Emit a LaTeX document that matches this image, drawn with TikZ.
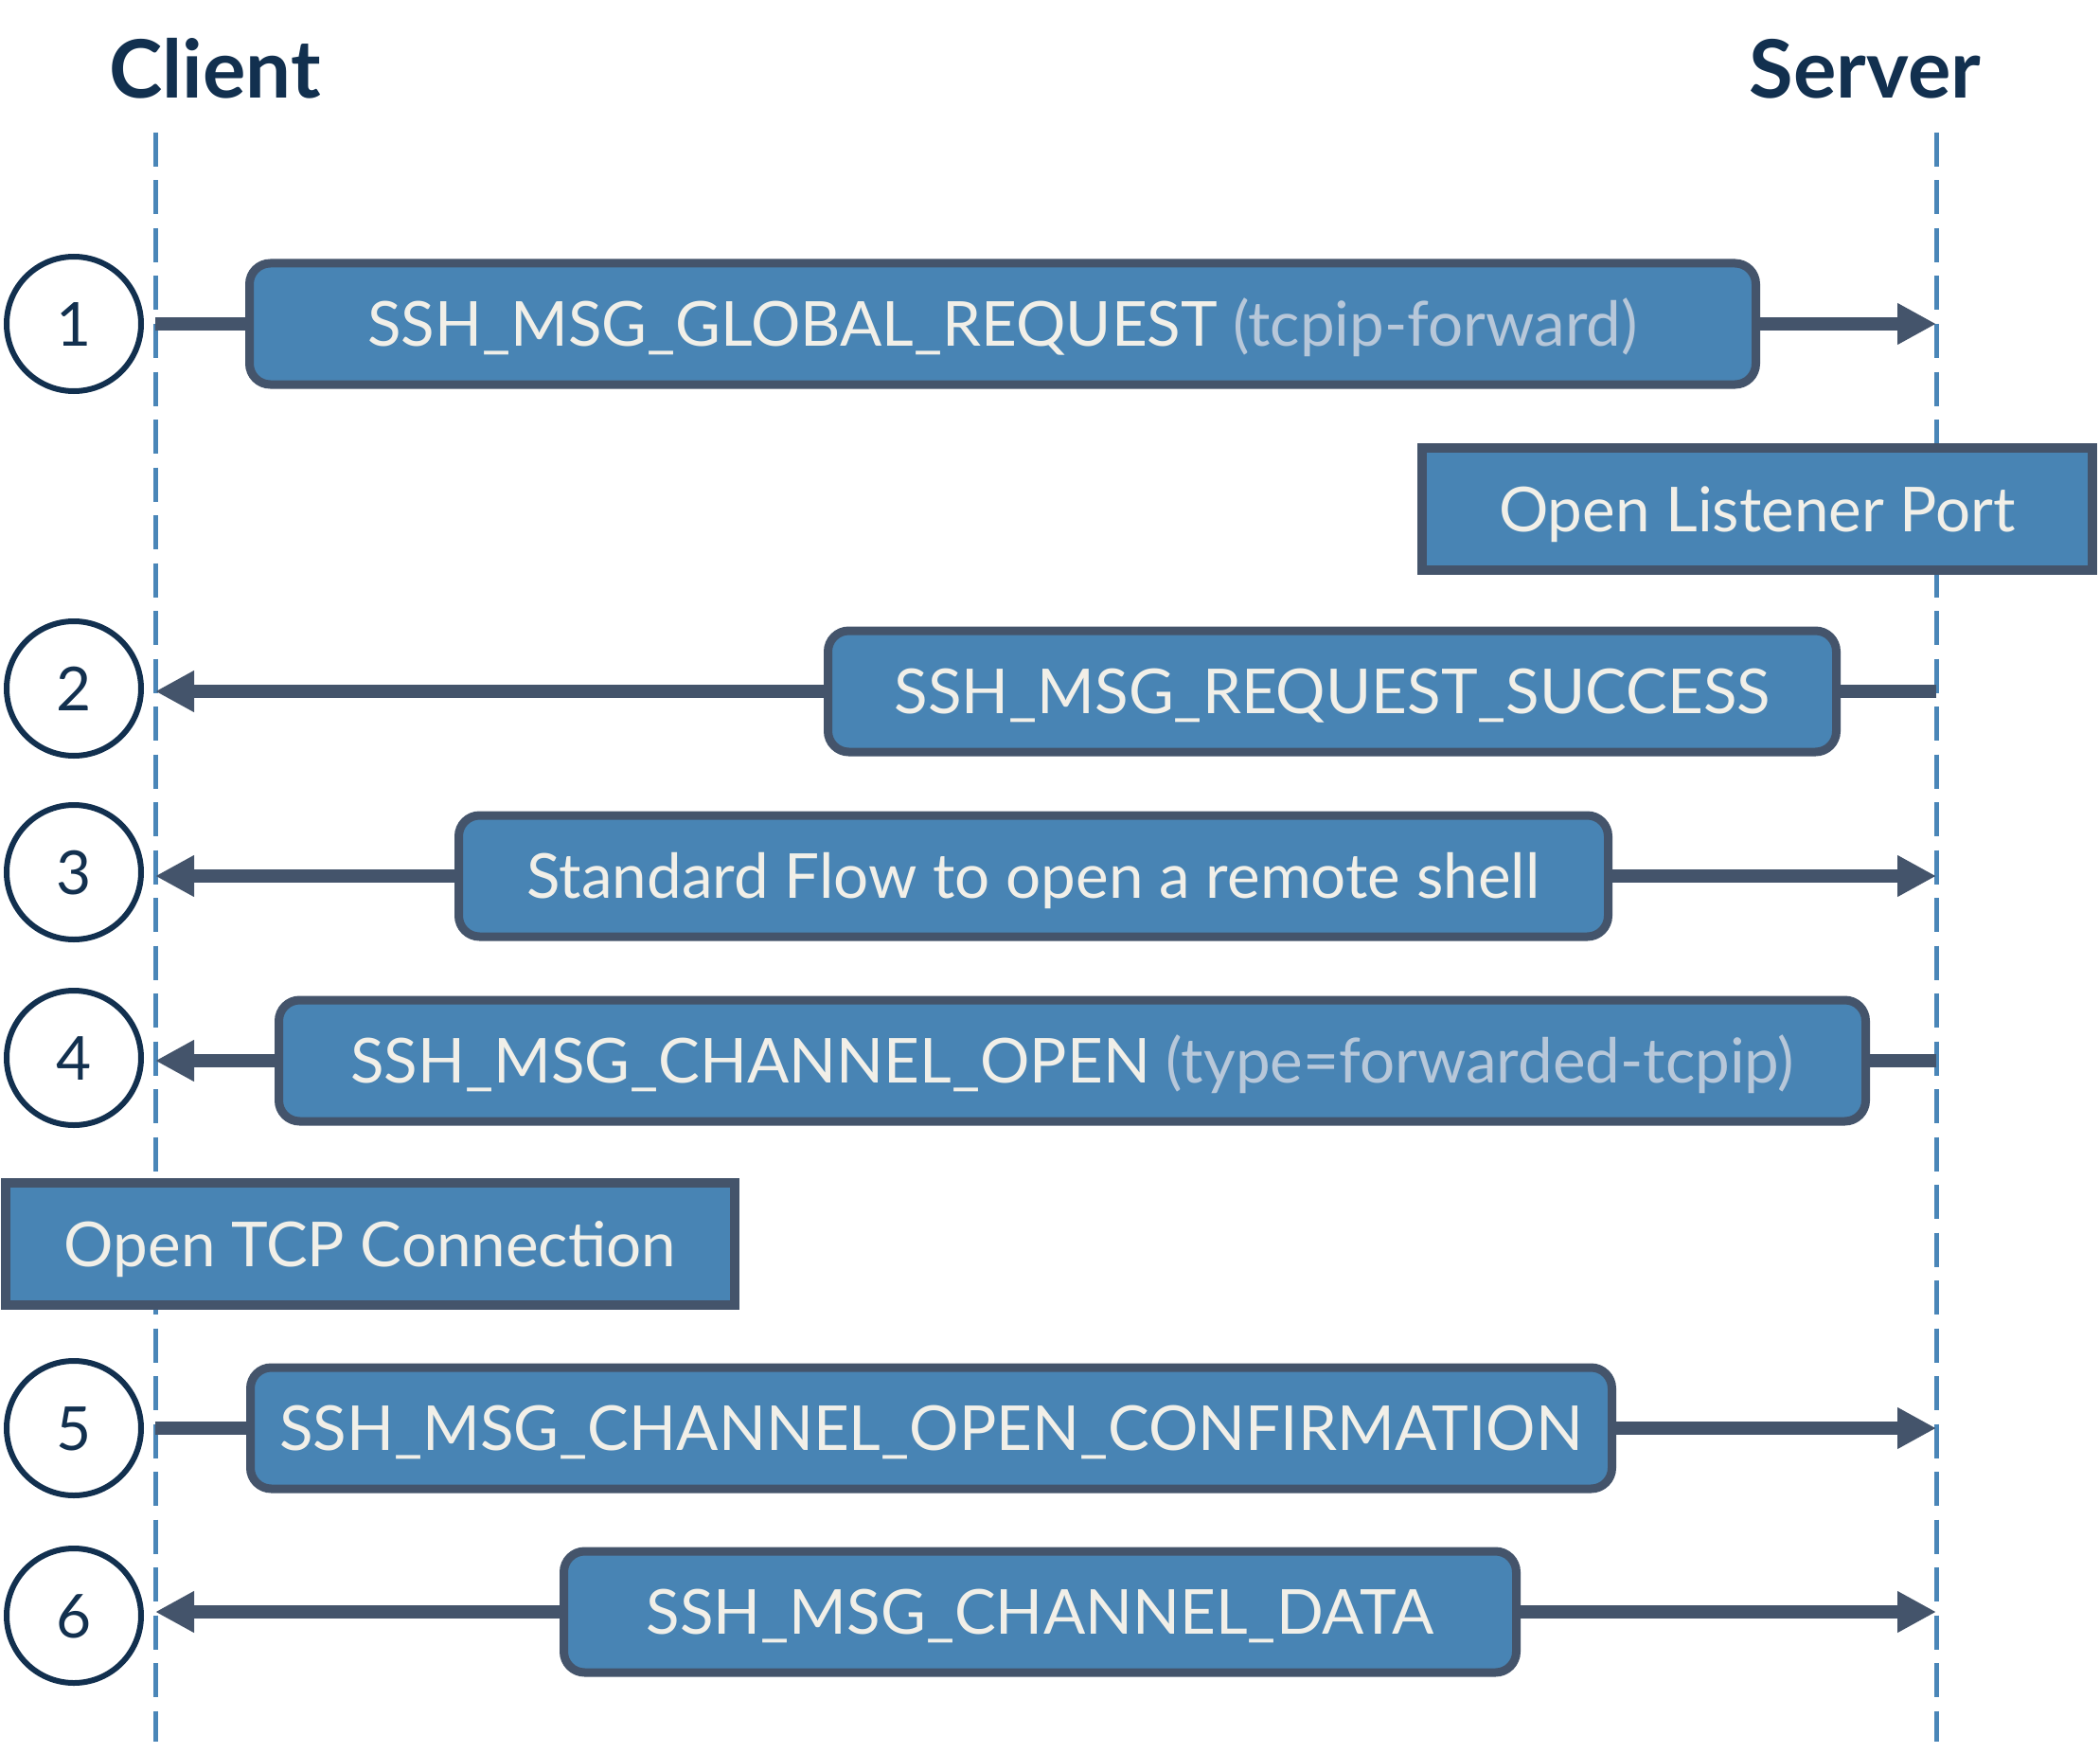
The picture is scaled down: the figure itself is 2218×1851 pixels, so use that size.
\documentclass[tikz,border=0pt]{standalone}
\usepackage{fontspec}
\setmainfont{Lato}
\usetikzlibrary{arrows.meta}
\definecolor{navy}{HTML}{12304F}
\definecolor{boxfill}{HTML}{4884B4}
\definecolor{slate}{HTML}{44546B}
\definecolor{lbl}{HTML}{F1EFE8}
\definecolor{paren}{HTML}{B7C7D9}
\definecolor{life}{HTML}{4A86B8}
\begin{document}
\begin{tikzpicture}[x=1pt,y=-1pt,
  msg/.style={draw=slate, line width=9pt, fill=boxfill, rounded corners=22pt, inner sep=0pt,
    text=lbl, font=\fontsize{65.5}{72}\selectfont, text height=47pt, text depth=0pt, minimum height=128pt},
  act/.style={msg, sharp corners, line width=10pt, minimum height=129pt},
  num/.style={circle, draw=navy, line width=6pt, minimum size=142pt, inner sep=0pt, text=navy,
    font=\fontsize{64}{70}\selectfont, text height=46pt, text depth=0pt},
  lifeline/.style={draw=life, line width=5pt, dash pattern=on 36pt off 14.5pt},
  conn/.style={draw=slate, line width=14pt},
  arr/.style={conn, -{Triangle[length=41pt,width=41pt]}},
  titletext/.style={text=navy, font=\fontsize{85}{92}\selectfont\bfseries, anchor=base, inner sep=0pt}
]
\useasboundingbox (0,0) rectangle (2218,1851);
\fill[white] (0,0) rectangle (2218,1851);

% titles
\node[titletext] (client) at (227,104) {Client};
\node[titletext] (server) at (1970,104) {Server};

% lifelines
\coordinate (ctop) at (164,140);
\coordinate (cbot) at (164,1839);
\coordinate (stop) at (2045,140);
\coordinate (sbot) at (2045,1839);
\draw[lifeline] (ctop) -- (cbot);
\draw[lifeline] (stop) -- (sbot);

% row anchor points on lifelines
\foreach \i/\y in {1/342,2/730,3/925,4/1120,5/1508,6/1702}{
  \coordinate (c\i) at (164,\y);
  \coordinate (s\i) at (2045,\y);
}

% step circles
\node[num] (n1) at (78,342) {1};
\node[num] (n2) at (78,727) {2};
\node[num] (n3) at (78,921) {3};
\node[num] (n4) at (78,1117) {4};
\node[num] (n5) at (78,1508) {5};
\node[num] (n6) at (78,1706) {6};

% action boxes
\node[act, minimum width=708pt] (olp) at (1856,537.5) {Open Listener Port};
\node[act, minimum width=770pt] (otc) at (391,1313.5) {Open TCP Connection};

% message boxes
\node[msg, minimum width=1591pt] (b1) at (1059,342) {SSH\_MSG\_GLOBAL\_REQUEST {\color{paren}(tcpip-forward)}};
\node[msg, minimum width=1065pt] (b2) at (1407,730) {SSH\_MSG\_REQUEST\_SUCCESS};
\node[msg, minimum width=1214pt] (b3) at (1091.5,925) {Standard Flow to open a remote shell};
\node[msg, minimum width=1676pt] (b4) at (1132.5,1120) {SSH\_MSG\_CHANNEL\_OPEN {\color{paren}(type=forwarded-tcpip)}};
\node[msg, minimum width=1438pt] (b5) at (983.5,1508) {SSH\_MSG\_CHANNEL\_OPEN\_CONFIRMATION};
\node[msg, minimum width=1006pt] (b6) at (1098.5,1702) {SSH\_MSG\_CHANNEL\_DATA};

% connectors
\draw[conn] (c1) -- (b1.west);
\draw[arr] (b1.east) -- (s1);
\draw[conn] (s2) -- (b2.east);
\draw[arr] (b2.west) -- (c2);
\draw[arr] (b3.west) -- (c3);
\draw[arr] (b3.east) -- (s3);
\draw[conn] (s4) -- (b4.east);
\draw[arr] (b4.west) -- (c4);
\draw[conn] (c5) -- (b5.west);
\draw[arr] (b5.east) -- (s5);
\draw[arr] (b6.west) -- (c6);
\draw[arr] (b6.east) -- (s6);
\end{tikzpicture}
\end{document}
